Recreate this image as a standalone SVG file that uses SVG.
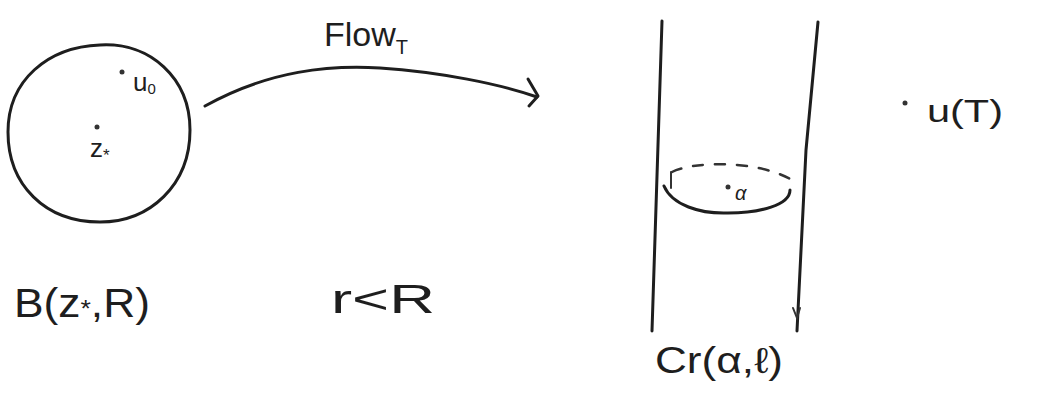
<svg xmlns="http://www.w3.org/2000/svg" width="1047" height="397" viewBox="0 0 1047 397">
  <style>
    .ink { fill: none; stroke: #1e1e1e; stroke-width: 3; stroke-linecap: round; stroke-linejoin: round; }
    .thin { fill: none; stroke: #333; stroke-width: 2; stroke-linecap: round; }
    .dash { fill: none; stroke: #333; stroke-width: 2.5; stroke-dasharray: 10 12; stroke-linecap: round; }
    .dot { fill: #333; }
    .lbl { font-family: "Liberation Sans", "DejaVu Sans", sans-serif; fill: #1e1e1e; }
  </style>
  <rect width="1047" height="397" fill="#ffffff"/>

  <!-- Ball B(z*, R) -->
  <g id="ball">
    <path class="ink" d="M 100 45 C 150 42 190 78 190 130 C 190 185 150 222 100 222 C 45 222 8 185 8 132 C 8 80 48 47 100 45 Z"/>
    <circle class="dot" cx="122" cy="72" r="2.5"/>
    <text class="lbl" x="133" y="91" font-size="26">u<tspan font-size="15" dy="3">0</tspan></text>
    <circle class="dot" cx="97" cy="127" r="2.5"/>
    <text class="lbl" x="90" y="157" font-size="26">z<tspan font-size="17" dy="4">*</tspan></text>
    <text class="lbl" x="14" y="317" font-size="40" textLength="136" lengthAdjust="spacingAndGlyphs">B(z<tspan font-size="24">*</tspan>,R)</text>
  </g>

  <!-- Flow_T connector -->
  <g id="connectors">
    <path class="ink" d="M 205 106 C 270 70 330 65 380 68 C 440 72 500 84 537 97"/>
    <path class="ink" d="M 528 79 L 538 96 L 529 106"/>
  </g>
  <g id="flow-label">
    <text class="lbl" x="324" y="46" font-size="34">Flow<tspan font-size="20" dy="8">T</tspan></text>
  </g>

  <!-- r < R -->
  <g id="ratio">
    <text class="lbl" x="331" y="313" font-size="40" textLength="104" lengthAdjust="spacingAndGlyphs">r&lt;R</text>
  </g>

  <!-- Cylinder Cr(alpha, l) -->
  <g id="cylinder">
    <path class="ink" d="M 662 21 L 652 331"/>
    <path class="ink" d="M 818 22 L 806 150 L 797 331"/>
    <path class="thin" d="M 793 308 L 797 318 L 800 308"/>
    <path class="dash" d="M 672 172 C 690 162 760 158 797 183"/>
    <path class="thin" d="M 671 172 L 671 188"/>
    <path class="ink" d="M 664 186 C 672 205 700 214 728 213 C 760 213 790 205 790 190"/>
    <circle class="dot" cx="728" cy="187" r="2.5"/>
    <text class="lbl" x="735" y="200" font-size="20" font-style="italic">α</text>
    <text class="lbl" x="655" y="373" font-size="36" textLength="128" lengthAdjust="spacingAndGlyphs">Cr(α,ℓ)</text>
  </g>

  <!-- Point u(T) -->
  <g id="uT">
    <circle class="dot" cx="905" cy="103" r="2.5"/>
    <text class="lbl" x="927" y="122" font-size="32" textLength="76" lengthAdjust="spacingAndGlyphs">u(T)</text>
  </g>
</svg>
